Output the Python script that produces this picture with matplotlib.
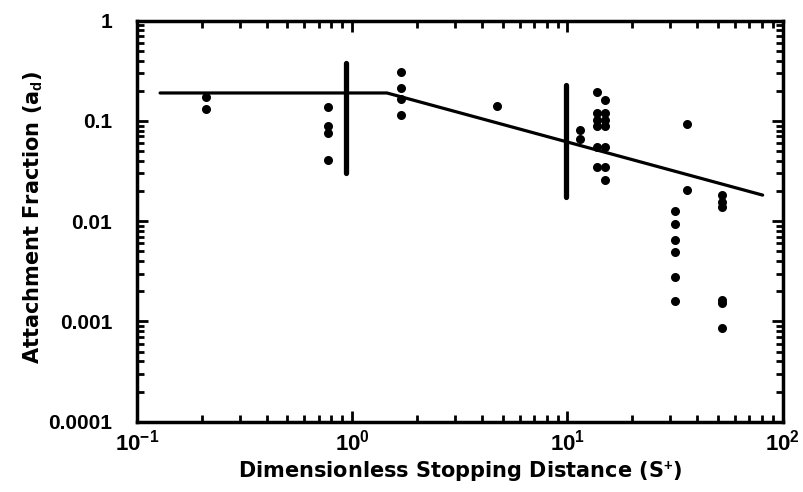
import numpy as np
from matplotlib import pyplot as plt
from matplotlib.ticker import LogLocator, FixedLocator, NullFormatter

s_plus = [0.21, 0.21,
          0.77, 0.77, 0.77, 0.77,
          1.68, 1.68, 1.68, 1.68,
          4.7,
          11.4, 11.4,
          13.7, 13.7, 13.7, 13.7, 13.7, 13.7,
          15.0, 15.0, 15.0, 15.0, 15.0, 15.0, 15.0,
          31.7, 31.7, 31.7, 31.7, 31.7, 31.7,
          35.8, 35.8,
          52.0, 52.0, 52.0, 52.0, 52.0, 52.0]
a_d = [0.175, 0.131,
       0.139, 0.088, 0.075, 0.041,
       0.31, 0.215, 0.167, 0.115,
       0.141,
       0.081, 0.066,
       0.196, 0.119, 0.102, 0.088, 0.055, 0.035,
       0.162, 0.119, 0.102, 0.088, 0.055, 0.035, 0.026,
       0.0125, 0.0094, 0.0065, 0.0049, 0.0028, 0.0016,
       0.093, 0.0205,
       0.0182, 0.0156, 0.014, 0.00164, 0.00153, 0.00086]

# model curve (plateau then power-law decay)
model_x = [0.128, 1.45, 80.7]
model_y = [0.19, 0.19, 0.0182]

# range bars
bar_x = [0.935, 9.8]
bar_lo = [0.0305, 0.0176]
bar_hi = [0.376, 0.228]

xtick_vals = [0.1, 1, 10, 100]
xtick_labels = ['$10^{-1}$', '$10^{0}$', '$10^{1}$', '$10^{2}$']
ytick_vals = [0.0001, 0.001, 0.01, 0.1, 1]
ytick_labels = ['0.0001', '0.001', '0.01', '0.1', '1']

plt.rcParams['font.family'] = ['Liberation Sans', 'DejaVu Sans']
plt.rcParams['font.weight'] = 'bold'
plt.rcParams['mathtext.fontset'] = 'custom'
plt.rcParams['mathtext.rm'] = 'Liberation Sans:bold'
plt.rcParams['mathtext.bf'] = 'Liberation Sans:bold'
plt.rcParams['mathtext.default'] = 'bf'

fig = plt.figure(figsize=(8.04, 4.92), dpi=100)
ax = fig.add_axes([0.1704, 0.1429, 0.8031, 0.8151])

ax.plot(model_x, model_y, color='black', linewidth=2.3, solid_capstyle='round')
ax.vlines(bar_x, bar_lo, bar_hi, color='black', linewidth=3.8, capstyle='round')
ax.plot(s_plus, a_d, 'o', color='black', markersize=6.5, markeredgewidth=0)

ax.set_xscale('log')
ax.set_yscale('log')
ax.set_xlim(0.1, 100)
ax.set_ylim(0.0001, 1)

ax.xaxis.set_major_locator(FixedLocator(xtick_vals))
ax.set_xticklabels(xtick_labels, fontsize=16)
ax.yaxis.set_major_locator(FixedLocator(ytick_vals))
ax.set_yticklabels(ytick_labels, fontsize=15, fontweight='bold')
ax.xaxis.set_minor_locator(LogLocator(base=10, subs=np.arange(2, 10)))
ax.yaxis.set_minor_locator(LogLocator(base=10, subs=np.arange(2, 10)))
ax.xaxis.set_minor_formatter(NullFormatter())
ax.yaxis.set_minor_formatter(NullFormatter())

ax.tick_params(which='both', direction='in', top=True, right=True, width=2)
ax.tick_params(which='major', length=8)
ax.tick_params(which='minor', length=5)
ax.tick_params(axis='y', which='major', pad=18)
ax.tick_params(axis='x', which='major', pad=6)
for sp in ax.spines.values():
    sp.set_linewidth(2.5)

ax.set_xlabel('Dimensionless Stopping Distance (S$^{+}$)', fontsize=15,
              fontweight='bold', family='DejaVu Sans')
ax.set_ylabel('Attachment Fraction (a$_{d}$)', fontsize=15,
              fontweight='bold', family='DejaVu Sans')
ax.xaxis.set_label_coords(0.5, -0.095)
ax.yaxis.set_label_coords(-0.143, 0.51)

fig.savefig('out.png', dpi=100)
